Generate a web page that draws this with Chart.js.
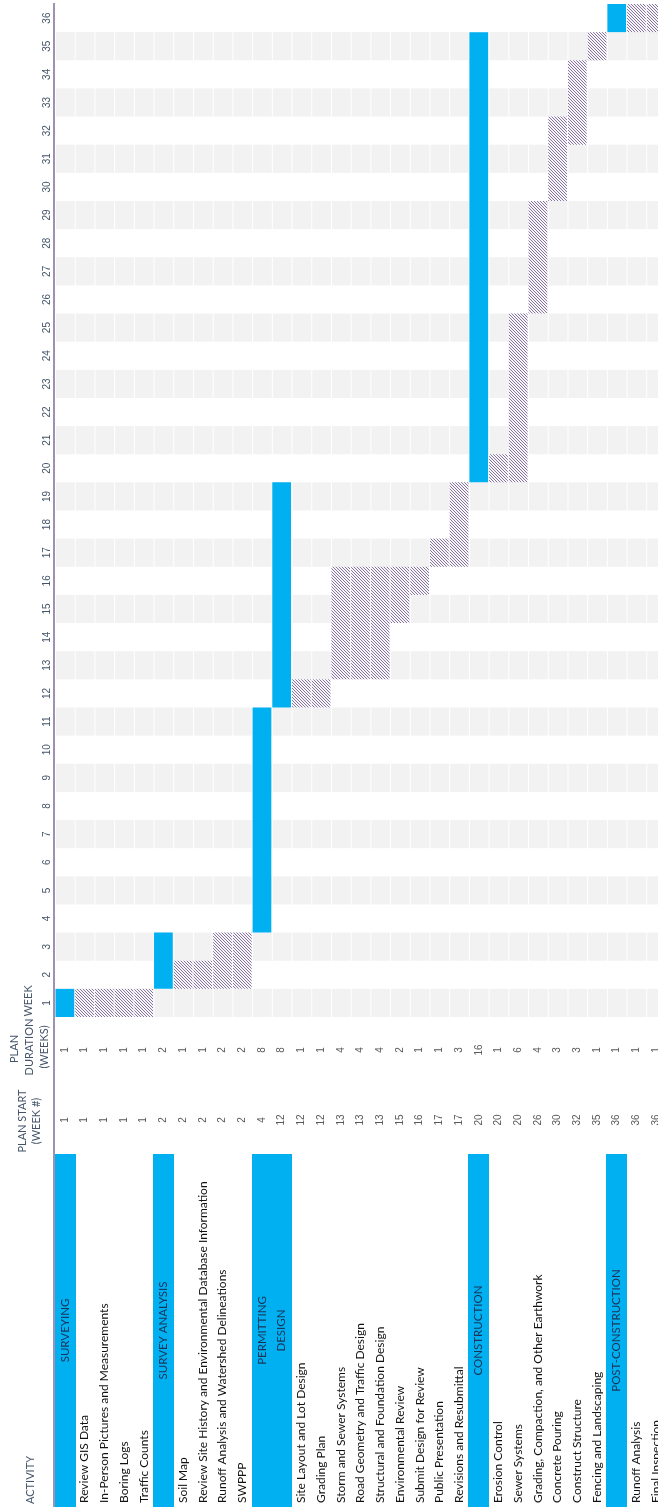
<!DOCTYPE html>
<html lang="en">
<head>
    <meta charset="UTF-8">
    <title>Project schedule</title>
    <script src="https://cdn.jsdelivr.net/npm/chart.js"></script>
    <style>
        html, body { margin: 0; padding: 0; background: #fff; overflow: hidden; }
        #gantt { display: block; }
    </style>
</head>
<body>
    <canvas id="gantt" width="668" height="1507"></canvas>

    <script>
        // table rows (left to right in the rotated sheet)
        const activities = [
            'SURVEYING', 'Review GIS Data', 'In-Person Pictures and Measurements', 'Boring Logs', 'Traffic Counts',
            'SURVEY ANALYSIS', 'Soil Map', 'Review Site History and Environmental Database Information',
            'Runoff Analysis and Watershed Delineations', 'SWPPP',
            'PERMITTING', 'DESIGN', 'Site Layout and Lot Design', 'Grading Plan', 'Storm and Sewer Systems',
            'Road Geometry and Traffic Design', 'Structural and Foundation Design', 'Environmental Review',
            'Submit Design for Review', 'Public Presentation', 'Revisions and Resubmittal',
            'CONSTRUCTION', 'Erosion Control', 'Sewer Systems', 'Grading, Compaction, and Other Earthwork',
            'Concrete Pouring', 'Construct Structure', 'Fencing and Landscaping',
            'POST-CONSTRUCTION', 'Runoff Analysis', 'Final Inspection'
        ];
        const isHeader = [
            1, 0, 0, 0, 0,
            1, 0, 0, 0, 0,
            1, 1, 0, 0, 0, 0, 0, 0, 0, 0, 0,
            1, 0, 0, 0, 0, 0, 0,
            1, 0, 0
        ];
        const planStart = [
            1, 1, 1, 1, 1,
            2, 2, 2, 2, 2,
            4, 12, 12, 12, 13, 13, 13, 15, 16, 17, 17,
            20, 20, 20, 26, 30, 32, 35,
            36, 36, 36
        ];
        const planDuration = [
            1, 1, 1, 1, 1,
            2, 1, 1, 2, 2,
            8, 8, 1, 1, 4, 4, 4, 2, 1, 1, 3,
            16, 1, 6, 4, 3, 3, 1,
            1, 1, 1
        ];
        const weekLabels = [
            '1', '2', '3', '4', '5', '6', '7', '8', '9', '10', '11', '12',
            '13', '14', '15', '16', '17', '18', '19', '20', '21', '22', '23', '24',
            '25', '26', '27', '28', '29', '30', '31', '32', '33', '34', '35', '36'
        ];

        const BLUE = '#00B0F0';
        const HEAD_TXT = '#44546A';

        // diagonal hatch for task cells
        function makeHatch() {
            const c = document.createElement('canvas');
            c.width = 3; c.height = 3;
            const g = c.getContext('2d');
            g.fillStyle = '#f7f5f9';
            g.fillRect(0, 0, 3, 3);
            g.fillStyle = '#85759a';
            for (let i = 0; i < 3; i++) g.fillRect(i, i, 1, 1);
            return document.getElementById('gantt').getContext('2d').createPattern(c, 'repeat');
        }

        function vText(ctx, str, x, y, align) {
            ctx.save();
            ctx.translate(x, y);
            ctx.rotate(-Math.PI / 2);
            ctx.textAlign = align;
            ctx.textBaseline = 'middle';
            ctx.fillText(str, 0, 0);
            ctx.restore();
        }

        const sheetPlugin = {
            id: 'sheet',
            beforeDatasetsDraw(chart) {
                const { ctx, scales: { x, y } } = chart;
                const colW = x.getPixelForValue(1) - x.getPixelForValue(0);
                ctx.save();
                // shaded odd weeks
                ctx.fillStyle = '#f2f2f2';
                for (let w = 1; w <= weekLabels.length; w += 2) {
                    const top = y.getPixelForValue(w), bot = y.getPixelForValue(w - 1);
                    activities.forEach((a, i) => {
                        const cx = x.getPixelForValue(i);
                        ctx.fillRect(cx - colW / 2 + 1, top, colW - 1, bot - top);
                    });
                }
                ctx.restore();
            },
            afterDraw(chart) {
                const { ctx, chartArea, scales: { x, y } } = chart;
                const colW = x.getPixelForValue(1) - x.getPixelForValue(0);
                const H = chart.height;
                const base = chartArea.bottom;
                ctx.save();

                // week numbers
                ctx.fillStyle = HEAD_TXT;
                ctx.font = '10px "Liberation Sans", Arial, sans-serif';
                weekLabels.forEach((lab, k) => {
                    vText(ctx, lab, 47, y.getPixelForValue(k + 0.5), 'center');
                });

                // column headers
                ctx.font = '11px Lato, "Open Sans", sans-serif';
                vText(ctx, 'WEEK', 28, y.getPixelForValue(0.5) - 2, 'center');
                vText(ctx, 'PLAN', 14, base + 32, 'center');
                vText(ctx, 'DURATION', 29, base + 30, 'center');
                vText(ctx, '(WEEKS)', 44, base + 30, 'center');
                vText(ctx, 'PLAN START', 22, base + 104, 'center');
                vText(ctx, '(WEEK #)', 36, base + 104, 'center');
                vText(ctx, 'ACTIVITY', 30, H - 3, 'left');

                // numbers
                ctx.fillStyle = '#595959';
                ctx.font = '10px "Liberation Sans", Arial, sans-serif';
                activities.forEach((a, i) => {
                    const cx = x.getPixelForValue(i);
                    vText(ctx, String(planDuration[i]), cx, base + 33, 'center');
                    vText(ctx, String(planStart[i]), cx, base + 103, 'center');
                });

                // activity cells
                const cellTop = base + 137;
                activities.forEach((a, i) => {
                    const cx = x.getPixelForValue(i);
                    if (isHeader[i]) {
                        ctx.fillStyle = BLUE;
                        ctx.fillRect(Math.floor(cx - colW / 2), cellTop, Math.ceil(colW) + 1, H - cellTop);
                    }
                });
                activities.forEach((a, i) => {
                    const cx = x.getPixelForValue(i);
                    if (isHeader[i]) {
                        ctx.fillStyle = '#1A3358';
                        ctx.font = '11.5px Lato, "Open Sans", sans-serif';
                        vText(ctx, a, cx, (cellTop + H) / 2, 'center');
                    } else {
                        ctx.fillStyle = '#111111';
                        ctx.font = '12px Lato, "Open Sans", sans-serif';
                        vText(ctx, a, cx, H - 4, 'left');
                    }
                });

                // divider line
                ctx.strokeStyle = '#7f6c98';
                ctx.lineWidth = 1.5;
                ctx.beginPath();
                ctx.moveTo(54, 3);
                ctx.lineTo(54, H);
                ctx.stroke();
                ctx.restore();
            }
        };

        const hatch = makeHatch();

        new Chart(document.getElementById('gantt'), {
            type: 'bar',
            data: {
                labels: activities,
                datasets: [{
                    data: planStart.map((s, i) => [s - 1, s - 1 + planDuration[i]]),
                    backgroundColor: isHeader.map(h => h ? BLUE : hatch),
                    borderWidth: 0,
                    borderSkipped: false,
                    barPercentage: 1,
                    categoryPercentage: 0.95
                }]
            },
            options: {
                responsive: false,
                devicePixelRatio: 1,
                animation: false,
                layout: { padding: { left: 55, right: 2, top: 4, bottom: 490 } },
                plugins: { legend: { display: false }, tooltip: { enabled: false } },
                scales: {
                    x: { display: false, grid: { display: false } },
                    y: { display: false, min: 0, max: 36, grid: { display: false } }
                }
            },
            plugins: [sheetPlugin]
        });
    </script>
</body>
</html>
